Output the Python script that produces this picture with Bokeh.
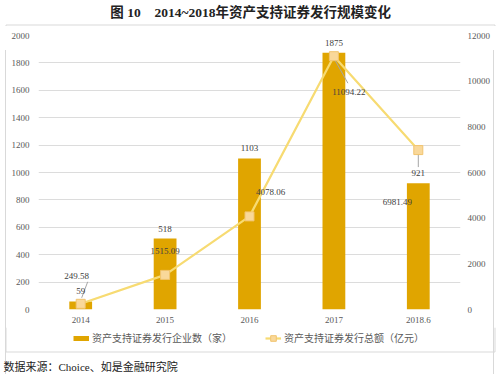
from bokeh.plotting import figure
from bokeh.layouts import column
from bokeh.models import (Range1d, LinearAxis, FixedTicker, Legend, LegendItem, Label,
                          ColumnDataSource, InlineStyleSheet, Plot)
from bokeh.core.properties import value
from bokeh.embed import file_html
from bokeh.resources import INLINE

# ---------------- data ----------------
categories = ["2014", "2015", "2016", "2017", "2018.6"]
issuers = [59, 518, 1103, 1875, 921]                                # 资产支持证券发行企业数（家）
amounts = [249.58, 1515.09, 4078.06, 11094.22, 6981.49]             # 资产支持证券发行总额（亿元）
left_ticks = [0, 200, 400, 600, 800, 1000, 1200, 1400, 1600, 1800, 2000]
right_ticks = [0, 2000, 4000, 6000, 8000, 10000, 12000]

title_a = "图 10"
title_b = "2014~2018年资产支持证券发行规模变化"
legend_bar = "资产支持证券发行企业数（家）"
legend_line = "资产支持证券发行总额（亿元）"
source_note = "数据来源：Choice、如是金融研究院"

# ---------------- style / layout ----------------
W = 502
H_TOP, H_BOT = 26, 47          # title strip / legend+source strip
FL, FW, FH = 38, 422, 274      # main plot frame
FT = 9                         # frame top inside main figure
BAR = "#E0A500"
LINE = "#F7DB72"
MK_FILL = "#F9D89A"
MK_EDGE = "#F1C46E"
TXT = "#595959"
LBL = "#404040"
GRID = "#DCDCDC"
BOX = "#D9D9D9"
SERIF_S = "Liberation Serif"
CJK_S = "Liberation Serif, Noto Sans CJK SC"
BOX_L, BOX_R = 5.5, 494.5      # outer frame edges (px)

HAS_FA = "frame_align" in Plot.properties()
XS = 0 if HAS_FA else FL       # strip frames are aligned to main frame otherwise

# label offsets in screen px (dx, dy; +dy = down)
line_dx = [-4, 0, 21, 15, -21]
line_dy = [-28, -24, -24, 36, 52]
bar_dy = -10

xs = list(range(len(categories)))


def strip(h):
    f = figure(width=W, height=h, output_backend="svg", toolbar_location=None,
               x_range=Range1d(0, W), y_range=Range1d(0, h),
               x_axis_location=None, y_axis_location=None,
               min_border=0, min_border_left=0, min_border_right=0,
               min_border_top=0, min_border_bottom=0)
    f.outline_line_color = None
    f.background_fill_alpha = 0
    f.border_fill_alpha = 0
    f.xgrid.visible = False
    f.ygrid.visible = False
    if HAS_FA:
        f.frame_align = False
    return f


# ---------------- title strip ----------------
p0 = strip(H_TOP)
p0.segment(x0=[BOX_L - XS, BOX_L - XS, BOX_R - XS], y0=[1.5, 1.5, 1.5],
           x1=[BOX_R - XS, BOX_L - XS, BOX_R - XS], y1=[1.5, 0, 0],
           line_color=BOX, line_width=1)
p0.add_layout(Label(x=125 - XS, y=H_TOP - 12, x_units="screen", y_units="screen",
                    text=title_a, text_align="center", text_baseline="middle",
                    text_font=CJK_S, text_font_size="13.5px", text_font_style="bold",
                    text_color="#222222"))
p0.add_layout(Label(x=154 - XS, y=H_TOP - 12, x_units="screen", y_units="screen",
                    text=title_b, text_align="left", text_baseline="middle",
                    text_font=CJK_S, text_font_size="13.5px", text_font_style="bold",
                    text_color="#222222"))

# ---------------- main chart ----------------
p = figure(frame_width=FW, frame_height=FH,
           output_backend="svg", toolbar_location=None,
           x_range=Range1d(-0.5, len(categories) - 0.5),
           y_range=Range1d(left_ticks[0], left_ticks[-1]),
           min_border_left=FL, min_border_right=W - FL - FW,
           min_border_top=FT, min_border_bottom=18)
if HAS_FA:
    p.frame_align = False
p.stylesheets = [InlineStyleSheet(css=(
    ":host::after{content:'';position:absolute;left:5px;top:24px;width:489px;"
    f"height:327px;border-left:1px solid {BOX};border-right:1px solid {BOX};"
    "pointer-events:none;}"))]
p.extra_y_ranges = {"r": Range1d(right_ticks[0], right_ticks[-1])}
p.outline_line_color = None
p.background_fill_alpha = 0
p.border_fill_alpha = 0
p.xgrid.grid_line_color = None
p.ygrid.grid_line_color = GRID
p.ygrid.ticker = FixedTicker(ticks=left_ticks)

p.yaxis.ticker = FixedTicker(ticks=left_ticks)
p.yaxis.major_label_standoff = 9
p.xaxis.ticker = FixedTicker(ticks=xs)
p.xaxis.major_label_overrides = {i: c for i, c in enumerate(categories)}
p.xaxis.major_label_standoff = 7
rax = LinearAxis(y_range_name="r", ticker=FixedTicker(ticks=right_ticks))
rax.major_label_standoff = 7
p.add_layout(rax, "right")
for ax in [p.xaxis[0], p.yaxis[0], rax]:
    ax.axis_line_color = None
    ax.major_tick_line_color = None
    ax.minor_tick_line_color = None
    ax.major_tick_out = 0
    ax.major_tick_in = 0
    ax.major_label_text_font = SERIF_S
    ax.major_label_text_font_size = "9px"
    ax.major_label_text_color = TXT

# bars
p.vbar(x=xs, top=issuers, width=0.27, fill_color=BAR, line_color=None)

# leader lines (gray), defined from the point values + small px offsets
ppx = FW / len(categories)
ppy_r = FH / (right_ticks[-1] - right_ticks[0])
lead_idx = [0, 3, 4]
lead_from = [(1, -6), (0, 2), (0, 3)]
lead_to = [(7, -22), (14, 27), (0, 17)]
seg = dict(x0=[], y0=[], x1=[], y1=[])
for i, (a, b) in zip(lead_idx, zip(lead_from, lead_to)):
    seg["x0"].append(xs[i] + a[0] / ppx)
    seg["y0"].append(amounts[i] - a[1] / ppy_r)
    seg["x1"].append(xs[i] + b[0] / ppx)
    seg["y1"].append(amounts[i] - b[1] / ppy_r)
p.segment(x0="x0", y0="y0", x1="x1", y1="y1", source=ColumnDataSource(seg),
          line_color="#A6A6A6", line_width=1, y_range_name="r")

# line + markers
p.line(xs, amounts, line_color=LINE, line_width=2.2, y_range_name="r")
p.scatter(xs, amounts, marker="square", size=9, fill_color=MK_FILL,
          line_color=MK_EDGE, line_width=1, y_range_name="r")

# data labels
p.text(x=xs, y=issuers, text=[str(v) for v in issuers], y_offset=bar_dy,
       text_align="center", text_baseline="middle", text_font=value(SERIF_S),
       text_font_size="9px", text_color=LBL)
lsrc = ColumnDataSource(dict(x=xs, y=amounts, t=[f"{v:.2f}" for v in amounts],
                             dx=line_dx, dy=line_dy))
p.text(x="x", y="y", text="t", x_offset="dx", y_offset="dy", source=lsrc,
       y_range_name="r", text_align="center", text_baseline="middle",
       text_font=value(SERIF_S), text_font_size="9px", text_color=LBL)

# ---------------- legend + source strip ----------------
p2 = strip(H_BOT)
p2.segment(x0=[BOX_L - XS, BOX_R - XS, BOX_L - XS], y0=[H_BOT, H_BOT, 22.5],
           x1=[BOX_L - XS, BOX_R - XS, BOX_R - XS], y1=[22.5, 22.5, 22.5],
           line_color=BOX, line_width=1)
# legend swatch renderers (off-screen single points, only used for the legend icons)
off = [-1000]
sw = p2.line(off + off, off + off, line_color=BAR, line_width=5)
ld = p2.line(off + off, off + off, line_color=LINE, line_width=2.2)
sd = p2.scatter(off, off, marker="square", size=9, fill_color=MK_FILL,
                line_color=MK_EDGE, line_width=1)
legend = Legend(items=[LegendItem(label=legend_bar, renderers=[sw]),
                       LegendItem(label=legend_line, renderers=[ld, sd])],
                orientation="horizontal", location=(73 - XS, H_BOT - 18),
                glyph_width=16, glyph_height=14, label_height=14,
                label_standoff=3, spacing=33, padding=0, margin=0,
                border_line_color=None, background_fill_alpha=0,
                label_text_font="Noto Sans CJK SC",
                label_text_font_size="10px", label_text_color=TXT)
p2.add_layout(legend)
p2.add_layout(Label(x=max(3 - XS, 0), y=H_BOT - 39, x_units="screen", y_units="screen",
                    text=source_note, text_align="left", text_baseline="middle",
                    text_font=CJK_S, text_font_size="11px", text_color="#222222"))

layout = column(p0, p, p2, spacing=0)

open("out.html", "w").write(file_html(layout, INLINE))
